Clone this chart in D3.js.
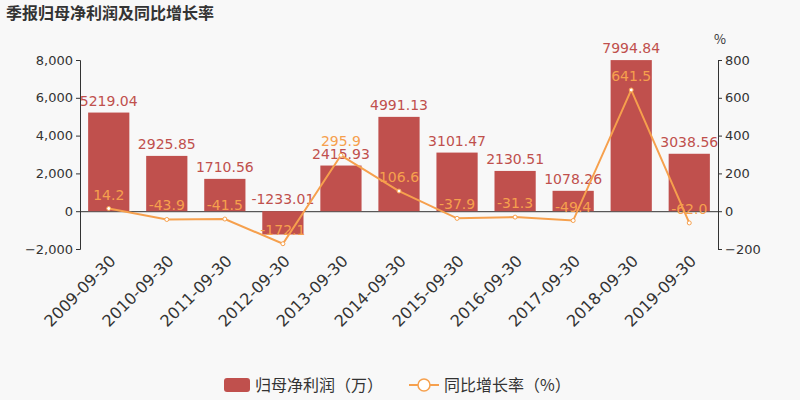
<!DOCTYPE html>
<html><head><meta charset="utf-8">
<script src="https://cdn.jsdelivr.net/npm/d3@7"></script>
<style>body{margin:0;background:#f8f8f8;font-family:"Noto Sans CJK SC","DejaVu Sans",sans-serif}</style>
</head><body><div id="chart"></div>
<script>
const dates = ["2009-09-30","2010-09-30","2011-09-30","2012-09-30","2013-09-30","2014-09-30","2015-09-30","2016-09-30","2017-09-30","2018-09-30","2019-09-30"];
const profit = [5219.04,2925.85,1710.56,-1233.01,2415.93,4991.13,3101.47,2130.51,1078.26,7994.84,3038.56];
const growth = [14.2,-43.9,-41.5,-172.1,295.9,106.6,-37.9,-31.3,-49.4,641.5,-62.0];
const leftTicks = [-2000,0,2000,4000,6000,8000];
const rightTicks = [-200,0,200,400,600,800];

const width = 800, height = 400;
const barColor = "#c0504d", lineColor = "#f6a04d";
const svg = d3.select("#chart").append("svg").attr("width", width).attr("height", height);
svg.append("rect").attr("width", width).attr("height", height).attr("fill", "#f8f8f8");

svg.append("text").attr("x", 6).attr("y", 19).text("季报归母净利润及同比增长率")
  .attr("font-size", 16).attr("font-weight", "bold").attr("fill", "#333");

const x = d3.scaleBand().domain(dates).range([80, 718]).paddingInner(0.29).paddingOuter(0.14);
const yL = d3.scaleLinear().domain([-2000, 8000]).range([249, 60]);
const yR = d3.scaleLinear().domain([-200, 800]).range([249, 60]);

const fmt = d3.format(",");
const axL = svg.append("g").attr("transform", "translate(80,0)")
  .call(d3.axisLeft(yL).tickValues(leftTicks).tickFormat(fmt).tickSize(4));
const axR = svg.append("g").attr("transform", "translate(718,0)")
  .call(d3.axisRight(yR).tickValues(rightTicks).tickSize(4));
[axL, axR].forEach(a => {
  a.selectAll("path,line").attr("stroke", "#333");
  a.selectAll("text").attr("font-size", 13).attr("fill", "#333").attr("font-family", "DejaVu Sans");
});
svg.append("text").attr("x", 714).attr("y", 44).text("%").attr("font-size", 13).attr("fill", "#333");

const axB = svg.append("g").attr("transform", `translate(0,${yL(0)})`)
  .call(d3.axisBottom(x).tickSize(0).tickFormat(""));
axB.select("path").attr("stroke", "#333");

svg.append("g").selectAll("text").data(dates).join("text")
  .attr("transform", d => `translate(${x(d) + x.bandwidth() / 2 + 8},262) rotate(-45)`)
  .attr("text-anchor", "end").attr("font-size", 16).attr("fill", "#333")
  .attr("font-family", "DejaVu Sans").text(d => d);

svg.append("g").selectAll("rect").data(profit).join("rect")
  .attr("x", (d, i) => x(dates[i])).attr("width", x.bandwidth())
  .attr("y", d => yL(Math.max(0, d))).attr("height", d => Math.abs(yL(d) - yL(0)))
  .attr("fill", barColor);

svg.append("g").selectAll("text").data(profit).join("text")
  .attr("x", (d, i) => x(dates[i]) + x.bandwidth() / 2)
  .attr("y", d => yL(Math.max(0, d)) - 7)
  .attr("text-anchor", "middle").attr("font-size", 14).attr("fill", barColor)
  .attr("font-family", "DejaVu Sans").text(d => d.toFixed(2));

const cx = (d, i) => x(dates[i]) + x.bandwidth() / 2;
svg.append("path").datum(growth)
  .attr("d", d3.line().x(cx).y(d => yR(d)))
  .attr("fill", "none").attr("stroke", lineColor).attr("stroke-width", 2);
svg.append("g").selectAll("circle").data(growth).join("circle")
  .attr("cx", cx).attr("cy", d => yR(d)).attr("r", 2).attr("fill", "#fff").attr("stroke", lineColor);
svg.append("g").selectAll("text").data(growth).join("text")
  .attr("x", cx).attr("y", d => yR(d) - 9)
  .attr("text-anchor", "middle").attr("font-size", 14).attr("fill", lineColor)
  .attr("font-family", "DejaVu Sans").text(d => d.toFixed(1));

// legend
const lg = svg.append("g").attr("transform", "translate(224,385)");
lg.append("rect").attr("x", 0).attr("y", -7).attr("width", 26).attr("height", 14).attr("rx", 3).attr("fill", barColor);
lg.append("text").attr("x", 31).attr("y", 6).text("归母净利润（万）").attr("font-size", 16).attr("fill", "#333");
lg.append("line").attr("x1", 185).attr("x2", 215).attr("y1", 0).attr("y2", 0).attr("stroke", lineColor).attr("stroke-width", 2);
lg.append("circle").attr("cx", 200).attr("cy", 0).attr("r", 6).attr("fill", "#fff").attr("stroke", lineColor).attr("stroke-width", 1.5);
lg.append("text").attr("x", 220).attr("y", 6).text("同比增长率（%）").attr("font-size", 16).attr("fill", "#333");
</script></body></html>
